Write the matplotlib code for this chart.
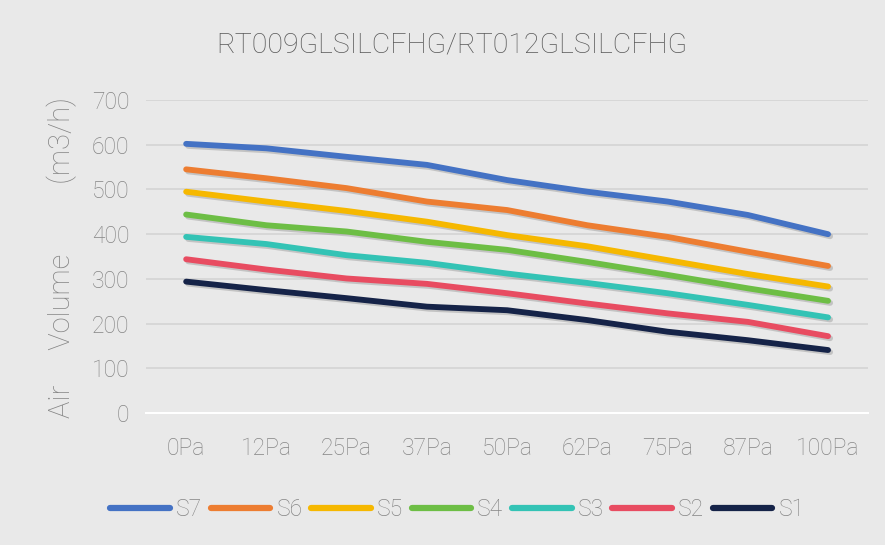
import matplotlib
matplotlib.use("Agg")
import matplotlib.patheffects as pe
from matplotlib import pyplot as plt

pressures = ["0Pa", "12Pa", "25Pa", "37Pa", "50Pa", "62Pa", "75Pa", "87Pa", "100Pa"]
series_names = ["S7", "S6", "S5", "S4", "S3", "S2", "S1"]
s7 = [602, 592, 573, 555, 521, 495, 473, 443, 400]
s6 = [545, 525, 503, 473, 454, 420, 394, 361, 329]
s5 = [495, 473, 452, 428, 398, 373, 342, 311, 283]
s4 = [444, 420, 406, 383, 365, 338, 309, 279, 251]
s3 = [394, 378, 353, 336, 312, 291, 268, 242, 214]
s2 = [344, 321, 301, 289, 268, 245, 223, 204, 172]
s1 = [294, 275, 257, 238, 230, 208, 182, 163, 141]
colors = ["#4472C4", "#ED7D31", "#F6B800", "#6DBE45", "#33C3B5", "#E84C61", "#152348"]

plt.rcParams["font.family"] = ["Roboto", "DejaVu Sans"]
text_color = "#858585"
bg = "#E9E9E9"

fig = plt.figure(figsize=(8.85, 5.45), dpi=100, facecolor=bg)
ax = fig.add_axes([0.165, 0.242, 0.816, 0.5745])
ax.set_facecolor(bg)

x = list(range(len(pressures)))
shadow = [pe.SimpleLineShadow(offset=(1.5, -1.5), shadow_color="#555555", alpha=0.25), pe.Normal()]
for name, vals, c in zip(series_names, [s7, s6, s5, s4, s3, s2, s1], colors):
    ax.plot(x, vals, color=c, lw=4.2, solid_capstyle="round", solid_joinstyle="round",
            label=name, path_effects=shadow)

ax.set_xlim(-0.5, len(pressures) - 0.5)
ax.set_ylim(0, 700)
ax.set_yticks(range(0, 701, 100))
ax.set_xticks(x)
ax.set_xticklabels(pressures)
ax.grid(axis="y", color="#D4D4D4", lw=1.2)
ax.set_axisbelow(True)
for s in ["top", "right", "left"]:
    ax.spines[s].set_visible(False)
ax.spines["bottom"].set_color("white")
ax.spines["bottom"].set_linewidth(1.5)
ax.tick_params(length=0, labelsize=16.5, colors=text_color)
ax.tick_params(axis="x", pad=17)
ax.tick_params(axis="y", pad=12)
for lab in ax.get_xticklabels() + ax.get_yticklabels():
    lab.set_fontweight("light")

fig.text(0.51, 0.917, "RT009GLSILCFHG/RT012GLSILCFHG", ha="center", va="center",
         fontsize=20.5, color="#595959", fontweight="light")
fig.text(0.07, 0.528, "Air     Volume          (m3/h)", rotation=90, ha="center", va="center",
         fontsize=21, color=text_color, fontweight="light")

leg = fig.legend(loc="center", bbox_to_anchor=(0.517, 0.066), ncol=7, frameon=False,
                 fontsize=16.5, handlelength=2.6, handletextpad=0.26, columnspacing=0.38,
                 labelcolor=text_color)
for line in leg.get_lines():
    line.set_linewidth(4.5)
    line.set_path_effects([])
    line.set_solid_capstyle("round")
for t in leg.get_texts():
    t.set_fontweight("light")

fig.savefig("out.png", dpi=100, facecolor=bg)
